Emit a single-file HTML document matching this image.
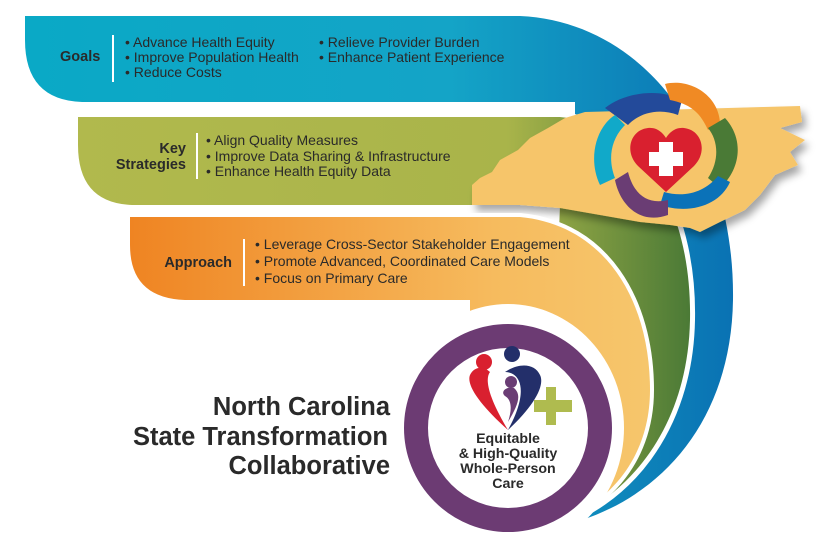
<!DOCTYPE html>
<html><head><meta charset="utf-8"><style>
html,body{margin:0;padding:0;background:#fff}
svg{display:block}
text{font-family:"Liberation Sans",sans-serif;fill:#2a2a2a}
</style></head><body>
<svg width="829" height="549" viewBox="0 0 829 549" xmlns="http://www.w3.org/2000/svg">
<defs>
<linearGradient id="gb" x1="0" y1="0" x2="1" y2="0"><stop offset="0" stop-color="#0aa9c6"/><stop offset="0.6" stop-color="#14a4c7"/><stop offset="1" stop-color="#0a72b3"/></linearGradient>
<linearGradient id="gg" x1="0" y1="0" x2="1" y2="0"><stop offset="0" stop-color="#b1b94d"/><stop offset="0.7" stop-color="#a9b44a"/><stop offset="1" stop-color="#4b7a36"/></linearGradient>
<linearGradient id="go" x1="0" y1="0" x2="1" y2="0"><stop offset="0" stop-color="#ef8422"/><stop offset="0.7" stop-color="#f6bb5e"/><stop offset="1" stop-color="#f6c66c"/></linearGradient>
<filter id="sh" x="-10%" y="-10%" width="130%" height="140%"><feDropShadow dx="4" dy="6" stdDeviation="4" flood-opacity="0.35"/></filter>
</defs>
<path d="M25,16 L520,16 C650,22 735,150 733,300 C731,430 650,510 550,528 L575,300 L575,102 L82,102 Q25,100 25,40 Z" fill="url(#gb)"/>
<path d="M78,117 L560,117 C650,125 692,220 690,320 C688,430 625,505 548,526 L560,205 L132,205 Q78,203 78,145 Z" fill="url(#gg)" stroke="#fff" stroke-width="10" stroke-linejoin="round"/>
<path d="M78,117 L560,117 C650,125 692,220 690,320 C688,430 625,505 548,526 L560,205 L132,205 Q78,203 78,145 Z" fill="url(#gg)"/>
<path d="M472,185 L480,178 L492,172 L500,160 L518,150 L530,138 L548,128 L565,118 L585,112 L800,106 L802,122 L780,128 L805,140 L790,152 L798,165 L775,175 L760,195 L745,210 L720,222 L700,232 L690,228 L670,225 L640,222 L600,215 L560,208 L520,205 L472,205 Z" fill="#f6c56a" filter="url(#sh)"/>
<path d="M130,217 L520,217 C605,225 650,300 650,390 C650,465 600,512 546,525 L470,400 L470,300 L185,300 Q130,298 130,245 Z" fill="url(#go)" stroke="#fff" stroke-width="8" stroke-linejoin="round"/>
<path d="M130,217 L520,217 C605,225 650,300 650,390 C650,465 600,512 546,525 L470,400 L470,300 L185,300 Q130,298 130,245 Z" fill="url(#go)"/>
<ellipse cx="508" cy="428" rx="116" ry="124" fill="#fff"/>
<circle cx="508" cy="428" r="92" fill="#fff" stroke="#6c3b73" stroke-width="24"/>
<g>
<path d="M605,108 C625,92 660,88 682,100 L678,115 C660,108 640,112 628,125 Z" fill="#234a9a"/>
<path d="M665,84 C690,78 718,95 720,122 L708,130 C700,112 690,104 670,100 Z" fill="#f08a24"/>
<path d="M725,118 C745,140 740,170 720,188 L708,178 C720,160 718,140 708,128 Z" fill="#4a7a36"/>
<path d="M730,182 C720,205 690,215 660,205 L664,192 C685,198 705,192 718,176 Z" fill="#0b72b8"/>
<path d="M668,215 C640,225 620,205 615,180 L628,172 C634,195 648,205 668,200 Z" fill="#6a3d74"/>
<path d="M600,185 C588,160 595,128 615,115 L625,125 C610,140 608,160 615,178 Z" fill="#11a9c9"/>
<path d="M666,192 L638,166 C624,152 630,130 648,128 C657,127 663,133 666,138 C669,133 675,127 684,128 C702,130 708,152 694,166 Z" fill="#d9202f"/>
<rect x="659" y="142" width="14" height="34" fill="#fff"/>
<rect x="649" y="152" width="34" height="14" fill="#fff"/>
</g>
<circle cx="484" cy="362" r="8" fill="#d9202f"/>
<circle cx="512" cy="354" r="8" fill="#232f6a"/>
<circle cx="511" cy="382" r="6" fill="#6a3d74"/>
<path d="M508,430 C480,405 466,385 470,375 C474,366 484,366 490,372 C484,380 490,400 508,430 Z" fill="#d9202f"/>
<path d="M508,430 C535,405 545,385 540,375 C535,364 520,362 505,372 C520,372 530,390 508,430 Z" fill="#232f6a"/>
<path d="M508,422 C518,405 522,395 514,388 C506,386 500,392 505,396 C512,400 512,410 508,422 Z" fill="#6a3d74"/>
<rect x="546" y="387" width="10" height="38" fill="#afbb4f"/>
<rect x="534" y="400" width="38" height="12" fill="#afbb4f"/>
<g font-weight="bold" font-size="14.2" text-anchor="middle" fill="#2a2a2a">
<text x="508" y="443">Equitable</text>
<text x="508" y="458">&amp; High-Quality</text>
<text x="508" y="473">Whole-Person</text>
<text x="508" y="488">Care</text>
</g>
<g font-weight="bold" font-size="25.5" text-anchor="end">
<text x="390" y="415">North Carolina</text>
<text x="388" y="445">State Transformation</text>
<text x="390" y="474">Collaborative</text>
</g>
<rect x="112" y="35" width="2" height="47" fill="#fff"/>
<rect x="196" y="133" width="2" height="46" fill="#fff"/>
<rect x="243" y="239" width="2" height="47" fill="#fff"/>
<g font-weight="bold" font-size="14.5">
<text x="60" y="61">Goals</text>
<text x="186" y="153" text-anchor="end">Key</text>
<text x="186" y="169" text-anchor="end">Strategies</text>
<text x="232" y="267" text-anchor="end">Approach</text>
</g>
<g font-size="14">
<text x="125" y="47">• Advance Health Equity</text>
<text x="125" y="62">• Improve Population Health</text>
<text x="125" y="77">• Reduce Costs</text>
<text x="319" y="47">• Relieve Provider Burden</text>
<text x="319" y="62">• Enhance Patient Experience</text>
<text x="206" y="145">• Align Quality Measures</text>
<text x="206" y="161">• Improve Data Sharing &amp; Infrastructure</text>
<text x="206" y="176">• Enhance Health Equity Data</text>
<text x="255" y="249">• Leverage Cross-Sector Stakeholder Engagement</text>
<text x="255" y="266">• Promote Advanced, Coordinated Care Models</text>
<text x="255" y="283">• Focus on Primary Care</text>
</g>
</svg>
</body></html>
